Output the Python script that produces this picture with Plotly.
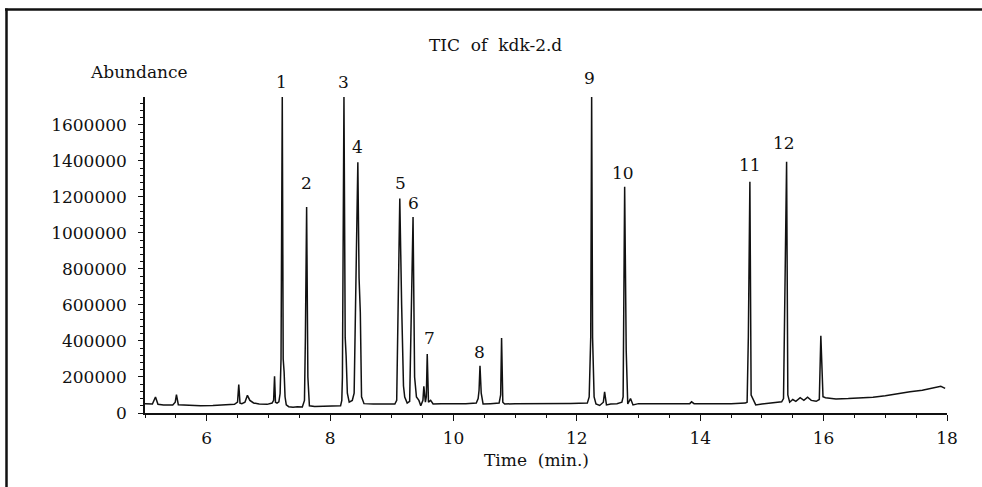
import plotly.graph_objects as go

# ---- data ----
time_min = [
    5.00, 5.12, 5.17, 5.21, 5.30, 5.45, 5.49, 5.51, 5.54, 5.70, 5.90, 6.10, 6.30, 6.45,
    6.50, 6.52, 6.54, 6.57, 6.62, 6.66, 6.70, 6.76, 6.85, 6.98, 7.06, 7.085, 7.10, 7.115,
    7.14, 7.17, 7.19, 7.205, 7.225, 7.24, 7.255, 7.27, 7.29, 7.33, 7.40, 7.47, 7.55, 7.585,
    7.60, 7.62, 7.64, 7.665, 7.75, 7.90, 8.05, 8.17, 8.19, 8.20, 8.225, 8.245, 8.26, 8.28,
    8.31, 8.36, 8.39, 8.41, 8.43, 8.45, 8.47, 8.49, 8.51, 8.55, 8.70, 8.90, 9.05, 9.08,
    9.10, 9.13, 9.16, 9.19, 9.21, 9.25, 9.29, 9.315, 9.345, 9.37, 9.40, 9.44, 9.47, 9.505,
    9.52, 9.545, 9.56, 9.575, 9.595, 9.63, 9.67, 9.80, 10.00, 10.20, 10.37, 10.40, 10.415,
    10.43, 10.45, 10.48, 10.60, 10.74, 10.765, 10.78, 10.80, 10.83, 11.00, 11.30, 11.60,
    11.90, 12.17, 12.20, 12.225, 12.24, 12.255, 12.28, 12.31, 12.37, 12.43, 12.45, 12.48,
    12.55, 12.65, 12.73, 12.75, 12.775, 12.80, 12.825, 12.87, 12.91, 13.00, 13.30, 13.60,
    13.83, 13.86, 13.90, 14.20, 14.50, 14.73, 14.76, 14.78, 14.805, 14.825, 14.85, 14.90,
    15.00, 15.15, 15.32, 15.35, 15.37, 15.40, 15.42, 15.45, 15.50, 15.55, 15.62, 15.68,
    15.74, 15.80, 15.88, 15.93, 15.955, 15.975, 15.99, 16.03, 16.20, 16.40, 16.60, 16.80,
    17.00, 17.20, 17.40, 17.60, 17.80, 17.90, 17.97,
]
abundance = [
    52000, 50000, 89000, 48000, 44000, 45000, 60000, 102000, 46000, 42000, 40000, 41000,
    43000, 48000, 60000, 158000, 55000, 52000, 60000, 98000, 70000, 56000, 50000, 48000,
    55000, 70000, 204000, 60000, 55000, 62000, 108000, 300000, 1760000, 300000, 228000,
    90000, 45000, 35000, 32000, 35000, 33000, 70000, 423000, 1144000, 200000, 40000, 36000,
    38000, 37000, 40000, 70000, 200000, 1760000, 420000, 318000, 110000, 60000, 70000,
    110000, 560000, 775000, 1392000, 750000, 560000, 90000, 52000, 50000, 48000, 50000,
    70000, 516000, 1191000, 600000, 150000, 89000, 55000, 65000, 516000, 1089000, 200000,
    89000, 70000, 40000, 70000, 148000, 60000, 90000, 327000, 60000, 70000, 50000, 52000,
    51000, 52000, 55000, 80000, 126000, 262000, 110000, 50000, 52000, 55000, 100000,
    416000, 60000, 50000, 52000, 51000, 52000, 53000, 55000, 89000, 420000, 1760000,
    420000, 89000, 50000, 42000, 60000, 117000, 45000, 50000, 52000, 60000, 89000,
    1256000, 349000, 50000, 80000, 45000, 52000, 50000, 52000, 52000, 62000, 52000, 51000,
    52000, 55000, 60000, 423000, 1284000, 100000, 80000, 45000, 50000, 56000, 62000, 80000,
    617000, 1395000, 100000, 60000, 75000, 65000, 85000, 70000, 88000, 70000, 65000,
    75000, 429000, 200000, 90000, 85000, 78000, 80000, 82000, 88000, 96000, 108000, 118000,
    126000, 138000, 148000, 137000,
]

# peak numbers and label positions (time, abundance level of the label)
peak_ids = ["1", "2", "3", "4", "5", "6", "7", "8", "9", "10", "11", "12"]
label_time = [7.205, 7.61, 8.21, 8.45, 9.146, 9.35, 9.605, 10.42, 12.205, 12.756, 14.80, 15.35]
label_level = [1839000, 1277000, 1839000, 1478000, 1277000, 1166000, 415000, 339000,
               1862000, 1335000, 1378000, 1498000]

x_ticks = [6, 8, 10, 12, 14, 16, 18]
y_ticks = [0, 200000, 400000, 600000, 800000, 1000000, 1200000, 1400000, 1600000]
x_range = [5, 18]
y_range = [0, 1755000]

title_text = "TIC\u00a0 of\u00a0 kdk-2.d"
y_label = "Abundance"
x_label = "Time\u00a0 (min.)"

# ---- layout geometry ----
W, H = 982, 487
L, R, T, B = 145, 35, 97, 74
PW, PH = W - L - R, H - T - B
FONT = "DejaVu Serif"
INK = "#111111"


def px(x):
    return (x - L) / PW


def py(y):
    return (H - B - y) / PH


fig = go.Figure()
fig.add_trace(go.Scatter(
    x=time_min, y=abundance, mode="lines",
    line=dict(color=INK, width=1.5), showlegend=False, hoverinfo="x+y",
))

annotations = []
for pid, t, lv in zip(peak_ids, label_time, label_level):
    annotations.append(dict(x=t, y=(lv - y_range[0]) / (y_range[1] - y_range[0]),
                            xref="x", yref="paper", text=pid, showarrow=False,
                            font=dict(family=FONT, size=17, color=INK),
                            xanchor="center", yanchor="middle"))
annotations.append(dict(x=px(495), y=py(45), xref="paper", yref="paper", text=title_text,
                        showarrow=False, font=dict(family=FONT, size=17, color=INK),
                        xanchor="center", yanchor="middle"))
annotations.append(dict(x=px(139), y=py(72), xref="paper", yref="paper", text=y_label,
                        showarrow=False, font=dict(family=FONT, size=17, color=INK),
                        xanchor="center", yanchor="middle"))
annotations.append(dict(x=px(536), y=py(460), xref="paper", yref="paper", text=x_label,
                        showarrow=False, font=dict(family=FONT, size=17, color=INK),
                        xanchor="center", yanchor="middle"))

shapes = [
    dict(type="line", xref="paper", yref="paper", x0=px(5), x1=px(982), y0=py(9.5), y1=py(9.5),
         line=dict(color=INK, width=2.5)),
    dict(type="line", xref="paper", yref="paper", x0=px(6.5), x1=px(6.5), y0=py(8.5), y1=py(487),
         line=dict(color=INK, width=2.5)),
]

fig.update_layout(
    width=W, height=H,
    margin=dict(l=L, r=R, t=T, b=B, pad=0),
    paper_bgcolor="white", plot_bgcolor="white",
    font=dict(family=FONT, size=17, color=INK),
    annotations=annotations, shapes=shapes,
    showlegend=False,
)
fig.update_xaxes(
    range=x_range, tickvals=x_ticks, showgrid=False, zeroline=False,
    showline=True, linecolor=INK, linewidth=1.5,
    ticks="outside", ticklen=6, tickwidth=1.3, tickcolor=INK,
    minor=dict(dtick=0.5, tick0=0, ticks="outside", ticklen=3, tickwidth=1, tickcolor=INK),
    tickfont=dict(family=FONT, size=17, color=INK), ticklabelstandoff=3,
)
fig.update_yaxes(
    range=y_range, tickvals=y_ticks, tickformat="d", showgrid=False, zeroline=False,
    showline=True, linecolor=INK, linewidth=1.5,
    ticks="outside", ticklen=5, tickwidth=1.3, tickcolor=INK,
    minor=dict(dtick=40000, tick0=0, ticks="outside", ticklen=3, tickwidth=1, tickcolor=INK),
    tickfont=dict(family=FONT, size=17, color=INK), ticklabelstandoff=8,
)

fig.write_html("out.html")
